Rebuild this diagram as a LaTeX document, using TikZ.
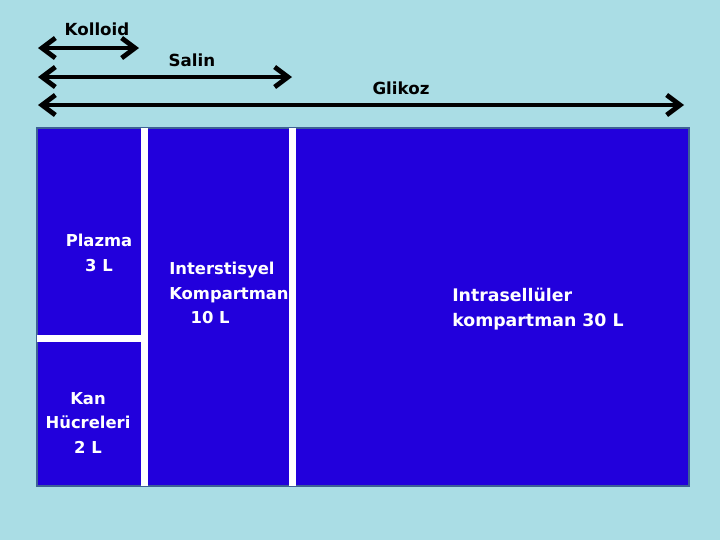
\documentclass[tikz,border=0pt]{standalone}
\usepackage{fontspec}
\setmainfont{DejaVu Sans}
\usetikzlibrary{arrows.meta}
\definecolor{sudamla}{RGB}{170,221,229}
\definecolor{kompmavi}{RGB}{34,0,220}
\definecolor{kenar}{RGB}{62,96,150}
\begin{document}
\begin{tikzpicture}[x=0.75pt,y=-0.75pt,
  ok/.style={line width=3.6pt,{Straight Barb[length=10pt,width=15pt]}-{Straight Barb[length=10pt,width=15pt]}},
  etiket/.style={font=\fontsize{12.5}{16}\selectfont\bfseries,inner sep=0pt},
  icyazi/.style={text=white,font=\fontsize{12.3}{18.4}\selectfont\bfseries,inner sep=0pt}]
\def\sol{37}\def\sag{689}\def\ust{128}\def\alt{486}
\useasboundingbox (0,0) rectangle (720,540);
\fill[sudamla] (0,0) rectangle (720,540);
% kompartmanlar
\fill[kompmavi,draw=kenar,line width=1.6pt] (\sol,\ust) rectangle (\sag,\alt);
\fill[white] (141,\ust) rectangle (148,\alt);
\fill[white] (289,\ust) rectangle (296,\alt);
\fill[white] (\sol,335) rectangle (141,342);
% oklar
\coordinate (kL) at (38,48);  \coordinate (kR) at (139,48);
\coordinate (sL) at (38,77);  \coordinate (sR) at (292,77);
\coordinate (gL) at (38,105); \coordinate (gR) at (684,105);
\draw[ok] (kL) -- (kR);
\draw[ok] (sL) -- (sR);
\draw[ok] (gL) -- (gR);
\node[etiket] (kolloid) at (97,29) {Kolloid};
\node[etiket] (salin) at (192,60) {Salin};
\node[etiket] (glikoz) at (401,88) {Glikoz};
% yazilar
\node[icyazi,align=center] (plazma) at (99,253) {Plazma\\3 L};
\node[icyazi,align=center] (kan) at (88,423) {Kan\\Hücreleri\\2 L};
\node[icyazi,align=left,anchor=north west] (inter) at (169,262) {Interstisyel\\Kompartman\\\hspace*{1.3em}10 L};
\node[icyazi,align=left,anchor=north west,font=\fontsize{13}{18.4}\selectfont\bfseries] (intra) at (452,288) {Intrasellüler\\kompartman 30 L};
\end{tikzpicture}
\end{document}
